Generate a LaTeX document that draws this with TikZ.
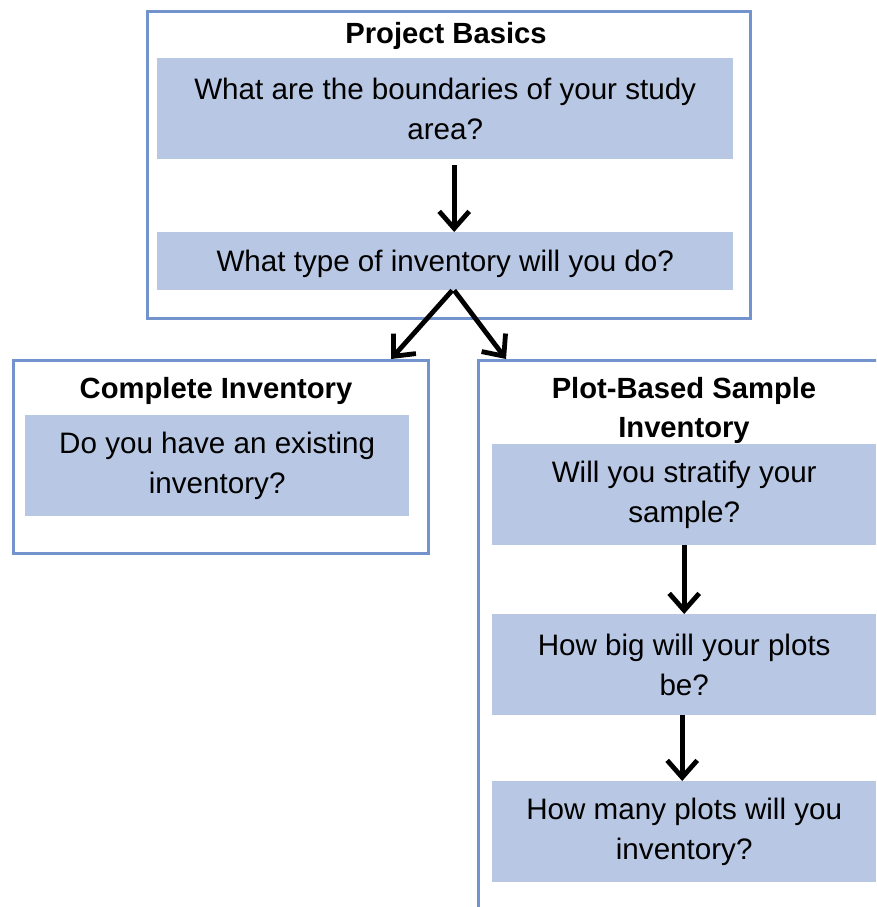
\documentclass[tikz,border=0pt]{standalone}
\usepackage{fontspec}
\setmainfont{Liberation Sans}
\usetikzlibrary{arrows.meta}
\definecolor{frame}{RGB}{114,147,204}
\definecolor{qfill}{RGB}{184,199,227}
\begin{document}
\begin{tikzpicture}[x=1pt,y=-1pt,
  group/.style={draw=frame,line width=3pt,fill=white,inner sep=0pt,anchor=north west},
  question/.style={fill=qfill,inner sep=0pt,anchor=north west,align=center,font=\fontsize{29.6}{39.5}\selectfont},
  heading/.style={font=\bfseries\fontsize{29.2}{39}\selectfont,align=center,inner sep=0pt},
  arr/.style={line width=4.8pt,-{Straight Barb[length=17pt,width=30pt]}}]
\useasboundingbox (0,0) rectangle (876,907);
\clip (0,0) rectangle (876,907);
% Project basics
\node[group,minimum width=603pt,minimum height=307pt] (pb) at (146,10) {};
\node[heading] (pbt) at (446,36) {Project Basics};
\node[question,minimum width=576pt,minimum height=101pt] (q1) at (157,58) {What are the boundaries of your study\\area?};
\node[question,minimum width=576pt,minimum height=58pt,text depth=0pt] (q2) at (157,232) {What type of inventory will you do?};
% Complete inventory
\node[group,minimum width=415pt,minimum height=193pt] (ci) at (12,359) {};
\node[heading] (cit) at (216,391) {Complete Inventory};
\node[question,minimum width=384pt,minimum height=101pt] (q3) at (25,415) {Do you have an existing\\inventory?};
% Plot-based sample inventory
\node[group,minimum width=416pt,minimum height=580pt] (ps) at (477,359) {};
\node[heading] (pst) at (684,410.5) {Plot-Based Sample\\Inventory};
\node[question,minimum width=384pt,minimum height=101pt] (q4) at (492,444) {Will you stratify your\\sample?};
\node[question,minimum width=384pt,minimum height=101pt] (q5) at (492,614) {How big will your plots\\be?};
\node[question,minimum width=384pt,minimum height=101pt] (q6) at (492,781) {How many plots will you\\inventory?};
% connectors
\draw[arr,shorten <=6pt] ([xshift=9pt]q1.south) -- ([xshift=9pt]q2.north);
\draw[arr] ([xshift=7pt]q2.south) -- ([xshift=-39pt]ci.north east);
\draw[arr] ([xshift=9pt]q2.south) -- ([xshift=29pt]ps.north west);
\draw[arr] (q4.south) -- (q5.north);
\draw[arr] ([xshift=-2pt]q5.south) -- ([xshift=-2pt]q6.north);
\end{tikzpicture}
\end{document}
